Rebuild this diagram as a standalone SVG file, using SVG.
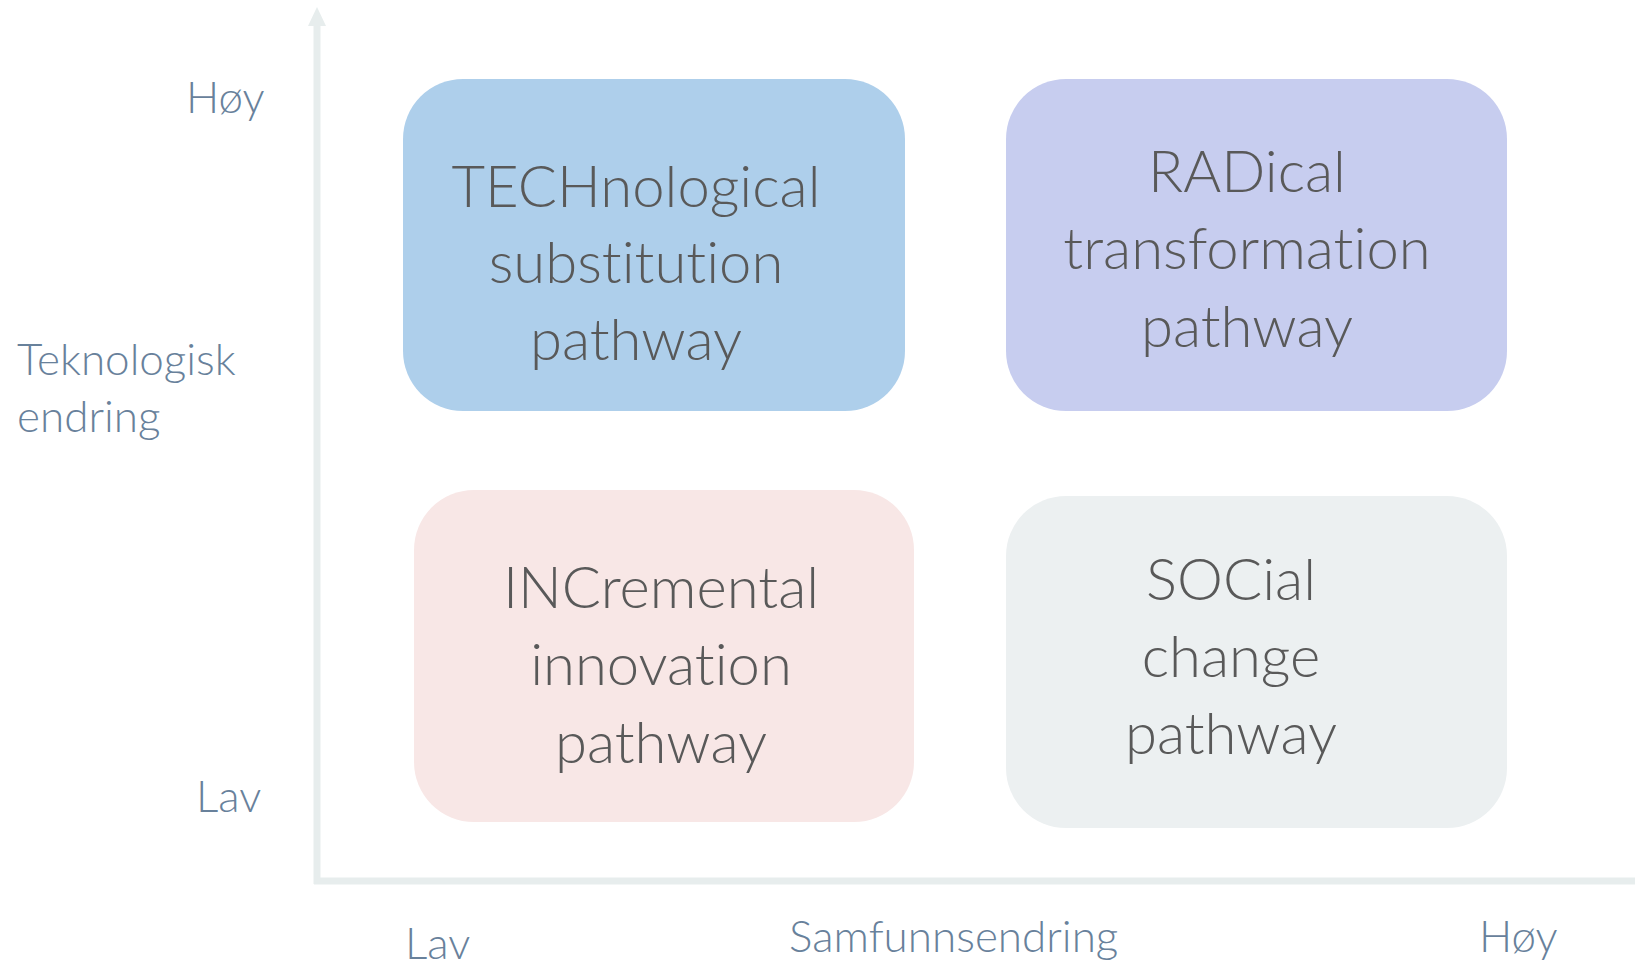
<svg xmlns="http://www.w3.org/2000/svg" width="1635" height="966" viewBox="0 0 1635 966">
<style>
text{font-variant-ligatures:none;font-feature-settings:"liga" 0}
.box text{font-family:Lato,"Open Sans","Liberation Sans",sans-serif;font-weight:300;font-size:58px;fill:#595959;text-anchor:middle}
.lbl{font-family:Lato,"Open Sans","Liberation Sans",sans-serif;font-weight:300;font-size:44px;fill:#68819b}
.axis{stroke:#e7eded;stroke-width:7;fill:none}
</style>
<rect width="1635" height="966" fill="#ffffff"/>
<g id="axes">
<line class="axis" x1="317" y1="884" x2="317" y2="24"/>
<polygon points="317,7 308,26 326,26" fill="#e7eded"/>
<line class="axis" x1="314" y1="881" x2="1635" y2="881"/>
</g>
<g id="tech" class="box">
<rect x="403" y="79" width="502" height="332" rx="60" fill="#aecfeb"/>
<text x="636" y="207">TECHnological</text>
<text x="636" y="283">substitution</text>
<text x="636" y="360">pathway</text>
</g>
<g id="rad" class="box">
<rect x="1006" y="79" width="501" height="332" rx="60" fill="#c7cdef"/>
<text x="1247" y="192">RADical</text>
<text x="1247" y="269">transformation</text>
<text x="1247" y="347">pathway</text>
</g>
<g id="inc" class="box">
<rect x="414" y="490" width="500" height="332" rx="60" fill="#f8e7e6"/>
<text x="661" y="608">INCremental</text>
<text x="661" y="685">innovation</text>
<text x="661" y="763">pathway</text>
</g>
<g id="soc" class="box">
<rect x="1006" y="496" width="501" height="332" rx="60" fill="#ecf0f1"/>
<text x="1231" y="600">SOCial</text>
<text x="1231" y="677">change</text>
<text x="1231" y="754">pathway</text>
</g>
<g id="labels">
<text class="lbl" x="186" y="113">Høy</text>
<text class="lbl" x="17" y="375">Teknologisk</text>
<text class="lbl" x="17" y="432">endring</text>
<text class="lbl" x="196" y="812">Lav</text>
<text class="lbl" x="405" y="959">Lav</text>
<text class="lbl" x="789" y="952">Samfunnsendring</text>
<text class="lbl" x="1479" y="952">Høy</text>
</g>
</svg>
